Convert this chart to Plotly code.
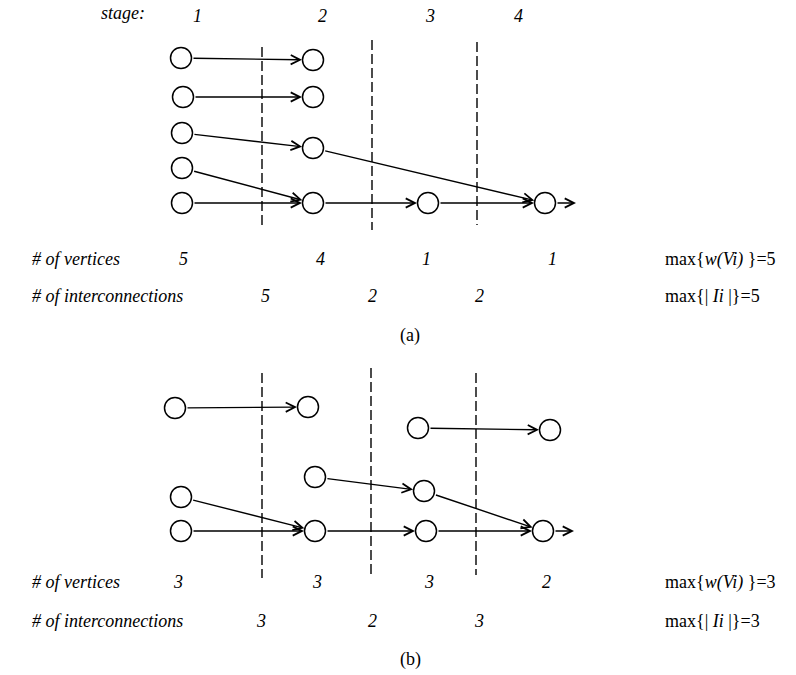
import plotly.graph_objects as go

W, H = 796, 675

# ---------------- data ----------------
stage_names = ["1", "2", "3", "4"]
stage_x = [197, 322, 430, 518]

# panel (a)
a_node_x = [181, 183, 182, 182, 182, 313, 313, 313, 313, 428, 545]
a_node_y = [58, 97, 133, 168, 203, 60, 97, 148, 203, 203, 203]
a_edges = [(0, 5), (1, 6), (2, 7), (3, 8), (4, 8), (7, 10), (8, 9), (9, 10)]
a_out = 10
a_div_x = [262, 372, 477]
a_div_top = [47, 40, 42]
a_div_bot = [228, 230, 225]
a_vertices = ["5", "4", "1", "1"]
a_vertices_x = [183, 320, 426, 552]
a_inter = ["5", "2", "2"]
a_inter_x = [265, 372, 479]
a_max_w = "5"
a_max_i = "5"

# panel (b)
b_node_x = [175, 181, 181, 308, 315, 315, 418, 424, 426, 550, 543]
b_node_y = [408, 497, 531, 407, 477, 531, 428, 491, 531, 430, 531]
b_edges = [(0, 3), (1, 5), (2, 5), (4, 7), (5, 8), (6, 9), (7, 10), (8, 10)]
b_out = 10
b_div_x = [262, 371, 476]
b_div_top = [373, 368, 373]
b_div_bot = [578, 578, 575]
b_vertices = ["3", "3", "3", "2"]
b_vertices_x = [178, 317, 429, 546]
b_inter = ["3", "2", "3"]
b_inter_x = [261, 372, 479]
b_max_w = "3"
b_max_i = "3"

FONT = "Liberation Serif"
FS = 18
fig = go.Figure()
ann = []
it = dict(family=FONT, size=FS, color="black", style="italic")
up = dict(family=FONT, size=FS, color="black")
ARW = dict(arrowhead=5, arrowsize=1.3, arrowwidth=1.4, arrowcolor="black")


def panel(nx, ny, edges, out, divx, divt, divb, verts, vx, inter, ix, mw, mi, y_vert, y_int, cap_x, y_cap, cap):
    for x, t, b in zip(divx, divt, divb):
        fig.add_trace(go.Scatter(x=[x, x], y=[t, b], mode="lines",
                                 line=dict(color="black", width=1.4, dash="10px,4px"),
                                 hoverinfo="skip", showlegend=False))
    for s, e in edges:
        ann.append(dict(x=nx[e], y=ny[e], ax=nx[s], ay=ny[s], xref="x", yref="y",
                        axref="x", ayref="y", text="", showarrow=True,
                        standoff=11, startstandoff=11, **ARW))
    ann.append(dict(x=nx[out] + 31, y=ny[out], ax=nx[out], ay=ny[out], xref="x", yref="y",
                    axref="x", ayref="y", text="", showarrow=True,
                    standoff=0, startstandoff=11, **ARW))
    fig.add_trace(go.Scatter(x=nx, y=ny, mode="markers",
                             marker=dict(symbol="circle", size=21, color="white",
                                         line=dict(color="black", width=1.5)),
                             hoverinfo="skip", showlegend=False))
    ann.append(dict(x=30, y=y_vert, text="# of vertices", showarrow=False, xanchor="left", font=it))
    ann.append(dict(x=30, y=y_int, text="# of interconnections", showarrow=False, xanchor="left", font=it))
    for t, x in zip(verts, vx):
        ann.append(dict(x=x, y=y_vert, text=t, showarrow=False, font=it))
    for t, x in zip(inter, ix):
        ann.append(dict(x=x, y=y_int, text=t, showarrow=False, font=it))
    ann.append(dict(x=663, y=y_vert, text="max{<i>w(Vi)</i> }=" + mw, showarrow=False,
                    xanchor="left", font=up))
    ann.append(dict(x=663, y=y_int, text="max{| <i>Ii</i> |}=" + mi, showarrow=False,
                    xanchor="left", font=up))
    ann.append(dict(x=cap_x, y=y_cap, text=cap, showarrow=False, font=up))


panel(a_node_x, a_node_y, a_edges, a_out, a_div_x, a_div_top, a_div_bot,
      a_vertices, a_vertices_x, a_inter, a_inter_x, a_max_w, a_max_i, 259, 296, 410, 335, "(a)")
panel(b_node_x, b_node_y, b_edges, b_out, b_div_x, b_div_top, b_div_bot,
      b_vertices, b_vertices_x, b_inter, b_inter_x, b_max_w, b_max_i, 582, 621, 410, 659, "(b)")

ann.append(dict(x=123, y=13, text="stage:", showarrow=False, font=it))
for t, x in zip(stage_names, stage_x):
    ann.append(dict(x=x, y=16, text=t, showarrow=False, font=it))

fig.update_layout(
    width=W, height=H, margin=dict(l=0, r=0, t=0, b=0),
    paper_bgcolor="white", plot_bgcolor="white",
    xaxis=dict(range=[0, W], visible=False, fixedrange=True),
    yaxis=dict(range=[H, 0], visible=False, fixedrange=True),
    annotations=ann, showlegend=False,
)
fig.write_html("out.html", config={"displayModeBar": False},
               post_script="document.body.style.margin='0';document.body.style.overflow='hidden';")
